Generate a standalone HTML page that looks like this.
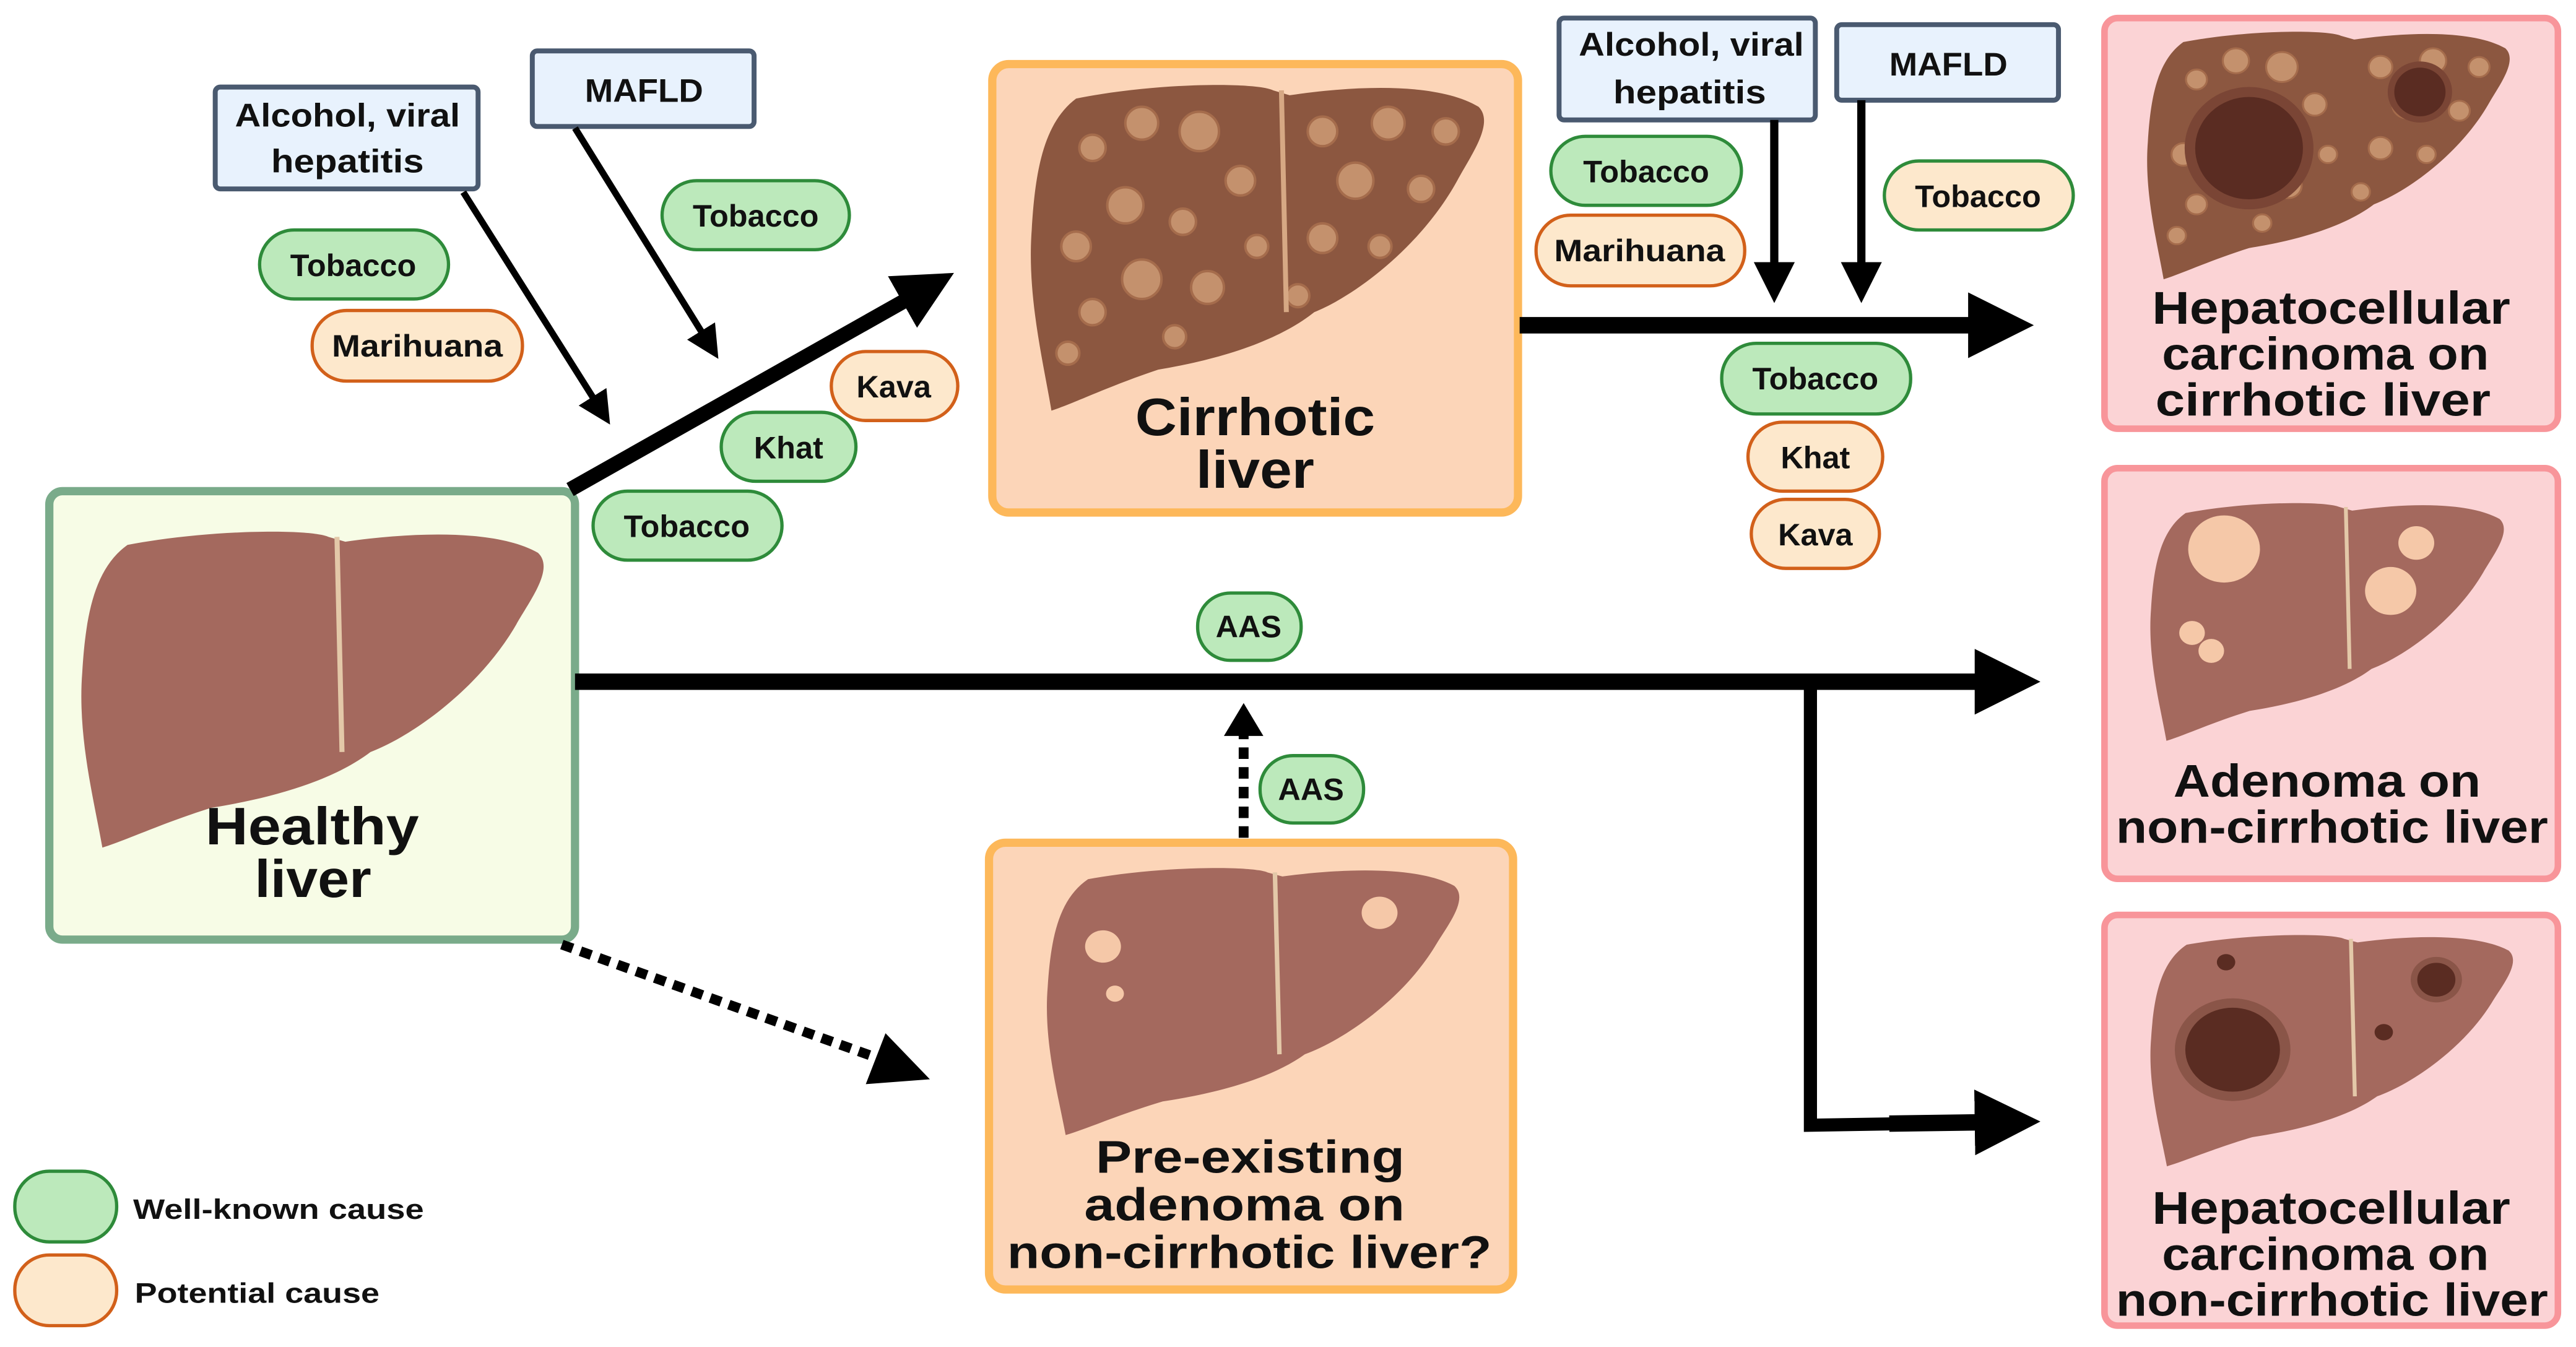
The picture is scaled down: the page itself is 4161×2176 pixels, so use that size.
<!DOCTYPE html>
<html><head><meta charset="utf-8"><style>
html,body{margin:0;padding:0;background:#fff}
svg{display:block}
text{font-family:"Liberation Sans",sans-serif;font-weight:bold;fill:#111}
</style></head><body>
<svg width="4161" height="2176" viewBox="0 0 1568 820" xmlns="http://www.w3.org/2000/svg">
<defs>
<path id="liv" d="M30,10 C80,0 140,0 150,5 L160,8 C200,2 250,0 275,15 C285,25 270,45 262,60 C240,100 200,130 175,140 C150,160 110,170 80,175 C50,185 30,195 15,200 C10,170 0,130 3,90 C5,55 10,25 30,10 Z"/>
<g id="spots" fill="#c4916d" stroke="#a56c4c" stroke-width="1.5">
<circle cx="40" cy="40" r="8"/><circle cx="70" cy="25" r="10"/><circle cx="105" cy="30" r="12"/><circle cx="130" cy="60" r="9"/><circle cx="60" cy="75" r="11"/><circle cx="95" cy="85" r="8"/><circle cx="30" cy="100" r="9"/><circle cx="70" cy="120" r="12"/><circle cx="40" cy="140" r="8"/><circle cx="110" cy="125" r="10"/><circle cx="140" cy="100" r="7"/><circle cx="180" cy="30" r="9"/><circle cx="220" cy="25" r="10"/><circle cx="255" cy="30" r="8"/><circle cx="200" cy="60" r="11"/><circle cx="240" cy="65" r="8"/><circle cx="180" cy="95" r="9"/><circle cx="215" cy="100" r="7"/><circle cx="25" cy="165" r="7"/><circle cx="90" cy="155" r="7"/><circle cx="165" cy="130" r="7"/>
</g>
<marker id="ah" markerWidth="4" markerHeight="4" refX="2" refY="2" orient="auto" markerUnits="strokeWidth"><path d="M0,0 L4,2 L0,4 Z" fill="#000"/></marker>
<marker id="ah2" markerWidth="5" markerHeight="5" refX="2.5" refY="2.5" orient="auto" markerUnits="strokeWidth"><path d="M0,0 L5,2.5 L0,5 Z" fill="#000"/></marker>
</defs>

<rect x="30" y="299" width="320" height="273" rx="8" fill="#f7fce6" stroke="#7aab8a" stroke-width="5"/>
<rect x="604" y="39" width="320" height="273" rx="10" fill="#fcd5b8" stroke="#fdb85a" stroke-width="5"/>
<rect x="602" y="513" width="319" height="272" rx="10" fill="#fcd5b8" stroke="#fdb85a" stroke-width="5"/>
<rect x="1281" y="11" width="276" height="250" rx="8" fill="#fbd3d5" stroke="#f8959a" stroke-width="4"/>
<rect x="1281" y="285" width="276" height="250" rx="8" fill="#fbd3d5" stroke="#f8959a" stroke-width="4"/>
<rect x="1281" y="557" width="276" height="250" rx="8" fill="#fbd3d5" stroke="#f8959a" stroke-width="4"/>

<g transform="translate(47,322) scale(1.02,0.97)"><use href="#liv" fill="#a4695e"/><path d="M155,5 L158,140" stroke="#e3c8a8" stroke-width="3" fill="none"/></g>
<g transform="translate(625,50)"><use href="#liv" fill="#8c5740"/><use href="#spots"/><path d="M155,5 L158,140" stroke="#d6a884" stroke-width="3" fill="none"/></g>
<g transform="translate(635,527) scale(0.91,0.82)"><use href="#liv" fill="#a4695e"/><path d="M155,5 L158,140" stroke="#e3c8a8" stroke-width="3" fill="none"/><circle cx="40" cy="60" r="12" fill="#f5c8a8"/><circle cx="225" cy="35" r="12" fill="#f5c8a8"/><circle cx="48" cy="95" r="6" fill="#f5c8a8"/></g>
<g transform="translate(1305,18) scale(0.8,0.76)"><use href="#liv" fill="#8c5740"/><use href="#spots"/><circle cx="80" cy="95" r="45" fill="#5a2c22" stroke="#7a4535" stroke-width="8"/><circle cx="210" cy="50" r="22" fill="#5a2c22" stroke="#7a4535" stroke-width="5"/></g>
<g transform="translate(1307,305) scale(0.78,0.73)"><use href="#liv" fill="#a4695e"/><path d="M155,5 L158,140" stroke="#e3c8a8" stroke-width="3" fill="none"/><circle cx="60" cy="40" r="28" fill="#f5c8a8"/><circle cx="210" cy="35" r="14" fill="#f5c8a8"/><circle cx="190" cy="75" r="20" fill="#f5c8a8"/><circle cx="35" cy="110" r="10" fill="#f5c8a8"/><circle cx="50" cy="125" r="10" fill="#f5c8a8"/></g>
<g transform="translate(1307,568) scale(0.8,0.71)"><use href="#liv" fill="#a4695e"/><path d="M155,5 L158,140" stroke="#e3c8a8" stroke-width="3" fill="none"/><circle cx="65" cy="100" r="40" fill="#5a2c22" stroke="#8a5548" stroke-width="8"/><circle cx="220" cy="40" r="17" fill="#5a2c22" stroke="#8a5548" stroke-width="5"/><circle cx="60" cy="25" r="7" fill="#5a2c22"/><circle cx="180" cy="85" r="7" fill="#5a2c22"/></g>

<g font-size="32" lengthAdjust="spacingAndGlyphs">
<text x="125" y="514" textLength="130" lengthAdjust="spacingAndGlyphs">Healthy</text>
<text x="155" y="546" textLength="71" lengthAdjust="spacingAndGlyphs">liver</text>
<text x="691" y="265" textLength="146" lengthAdjust="spacingAndGlyphs">Cirrhotic</text>
<text x="728" y="297" textLength="72" lengthAdjust="spacingAndGlyphs">liver</text>
</g>
<g font-size="28">
<text x="667" y="714" textLength="188" lengthAdjust="spacingAndGlyphs">Pre-existing</text>
<text x="660" y="743" textLength="195" lengthAdjust="spacingAndGlyphs">adenoma on</text>
<text x="613" y="772" textLength="295" lengthAdjust="spacingAndGlyphs">non-cirrhotic liver?</text>
<text x="1310" y="197" textLength="218" lengthAdjust="spacingAndGlyphs">Hepatocellular</text>
<text x="1316" y="225" textLength="199" lengthAdjust="spacingAndGlyphs">carcinoma on</text>
<text x="1312" y="253" textLength="204" lengthAdjust="spacingAndGlyphs">cirrhotic liver</text>
<text x="1323" y="485" textLength="187" lengthAdjust="spacingAndGlyphs">Adenoma on</text>
<text x="1288" y="513" textLength="263" lengthAdjust="spacingAndGlyphs">non-cirrhotic liver</text>
<text x="1310" y="745" textLength="218" lengthAdjust="spacingAndGlyphs">Hepatocellular</text>
<text x="1316" y="773" textLength="199" lengthAdjust="spacingAndGlyphs">carcinoma on</text>
<text x="1288" y="801" textLength="263" lengthAdjust="spacingAndGlyphs">non-cirrhotic liver</text>
</g>

<g fill="#e8f2fd" stroke="#4a5a70" stroke-width="3">
<rect x="131" y="53" width="160" height="62" rx="3"/>
<rect x="324" y="31" width="135" height="46" rx="3"/>
<rect x="949" y="11" width="156" height="62" rx="3"/>
<rect x="1118" y="15" width="135" height="46" rx="3"/>
</g>
<g font-size="20">
<text x="143" y="77" textLength="137" lengthAdjust="spacingAndGlyphs">Alcohol, viral</text>
<text x="165" y="105" textLength="93" lengthAdjust="spacingAndGlyphs">hepatitis</text>
<text x="356" y="62" textLength="72" lengthAdjust="spacingAndGlyphs">MAFLD</text>
<text x="961" y="34" textLength="137" lengthAdjust="spacingAndGlyphs">Alcohol, viral</text>
<text x="982" y="63" textLength="93" lengthAdjust="spacingAndGlyphs">hepatitis</text>
<text x="1150" y="46" textLength="72" lengthAdjust="spacingAndGlyphs">MAFLD</text>
</g>

<g stroke="#000" fill="none">
<line x1="282" y1="117" x2="366" y2="250" stroke-width="4" marker-end="url(#ah2)"/>
<line x1="350" y1="78" x2="432" y2="210" stroke-width="4" marker-end="url(#ah2)"/>
<line x1="347" y1="298" x2="565" y2="175" stroke-width="9" marker-end="url(#ah)"/>
<line x1="925" y1="198" x2="1218" y2="198" stroke-width="10" marker-end="url(#ah)"/>
<line x1="1080" y1="73" x2="1080" y2="172" stroke-width="5" marker-end="url(#ah2)"/>
<line x1="1133" y1="61" x2="1133" y2="172" stroke-width="5" marker-end="url(#ah2)"/>
<line x1="350" y1="415" x2="1222" y2="415" stroke-width="10" marker-end="url(#ah)"/>
<polyline points="1102,415 1102,685 1222,683" stroke-width="8"/>
<line x1="1150" y1="684" x2="1222" y2="683" stroke-width="10" marker-end="url(#ah)"/>
<line x1="757" y1="510" x2="757" y2="445" stroke-width="6" stroke-dasharray="7,5"/>
<path d="M745,448 L757,428 L769,448 Z" fill="#000" stroke="none"/>
<line x1="342" y1="575" x2="545" y2="648" stroke-width="6" stroke-dasharray="7,5"/>
<path d="M539,629 L566,657 L527,660 Z" fill="#000" stroke="none"/>
</g>

<g stroke-width="2">
<g fill="#bce9bb" stroke="#2e8b3a">
<rect x="158" y="140" width="115" height="42" rx="21"/>
<rect x="403" y="110" width="114" height="42" rx="21"/>
<rect x="439" y="251" width="82" height="42" rx="21"/>
<rect x="361" y="299" width="115" height="42" rx="21"/>
<rect x="944" y="83" width="116" height="42" rx="21"/>
<rect x="1048" y="209" width="115" height="43" rx="21"/>
<rect x="729" y="361" width="63" height="41" rx="20"/>
<rect x="767" y="460" width="63" height="41" rx="20"/>
<rect x="9" y="713" width="62" height="43" rx="21"/>
</g>
<g fill="#fde8cc" stroke="#d2601a">
<rect x="190" y="189" width="128" height="43" rx="21"/>
<rect x="506" y="214" width="77" height="42" rx="21"/>
<rect x="935" y="131" width="127" height="43" rx="21"/>
<rect x="1064" y="257" width="82" height="42" rx="21"/>
<rect x="1066" y="304" width="78" height="42" rx="21"/>
<rect x="9" y="764" width="62" height="43" rx="21"/>
</g>
<rect x="1147" y="98" width="115" height="42" rx="21" fill="#fde8cc" stroke="#2e8b3a"/>
</g>
<g font-size="19" text-anchor="middle">
<text x="215" y="168">Tobacco</text>
<text x="254" y="217" textLength="104" lengthAdjust="spacingAndGlyphs">Marihuana</text>
<text x="460" y="138">Tobacco</text>
<text x="544" y="242">Kava</text>
<text x="480" y="279">Khat</text>
<text x="418" y="327">Tobacco</text>
<text x="1002" y="111">Tobacco</text>
<text x="998" y="159" textLength="104" lengthAdjust="spacingAndGlyphs">Marihuana</text>
<text x="1204" y="126">Tobacco</text>
<text x="1105" y="237">Tobacco</text>
<text x="1105" y="285">Khat</text>
<text x="1105" y="332">Kava</text>
<text x="760" y="388">AAS</text>
<text x="798" y="487">AAS</text>
</g>
<g font-size="17">
<text x="81" y="742" textLength="177" lengthAdjust="spacingAndGlyphs">Well-known cause</text>
<text x="82" y="793" textLength="149" lengthAdjust="spacingAndGlyphs">Potential cause</text>
</g>
</svg>
</body></html>
